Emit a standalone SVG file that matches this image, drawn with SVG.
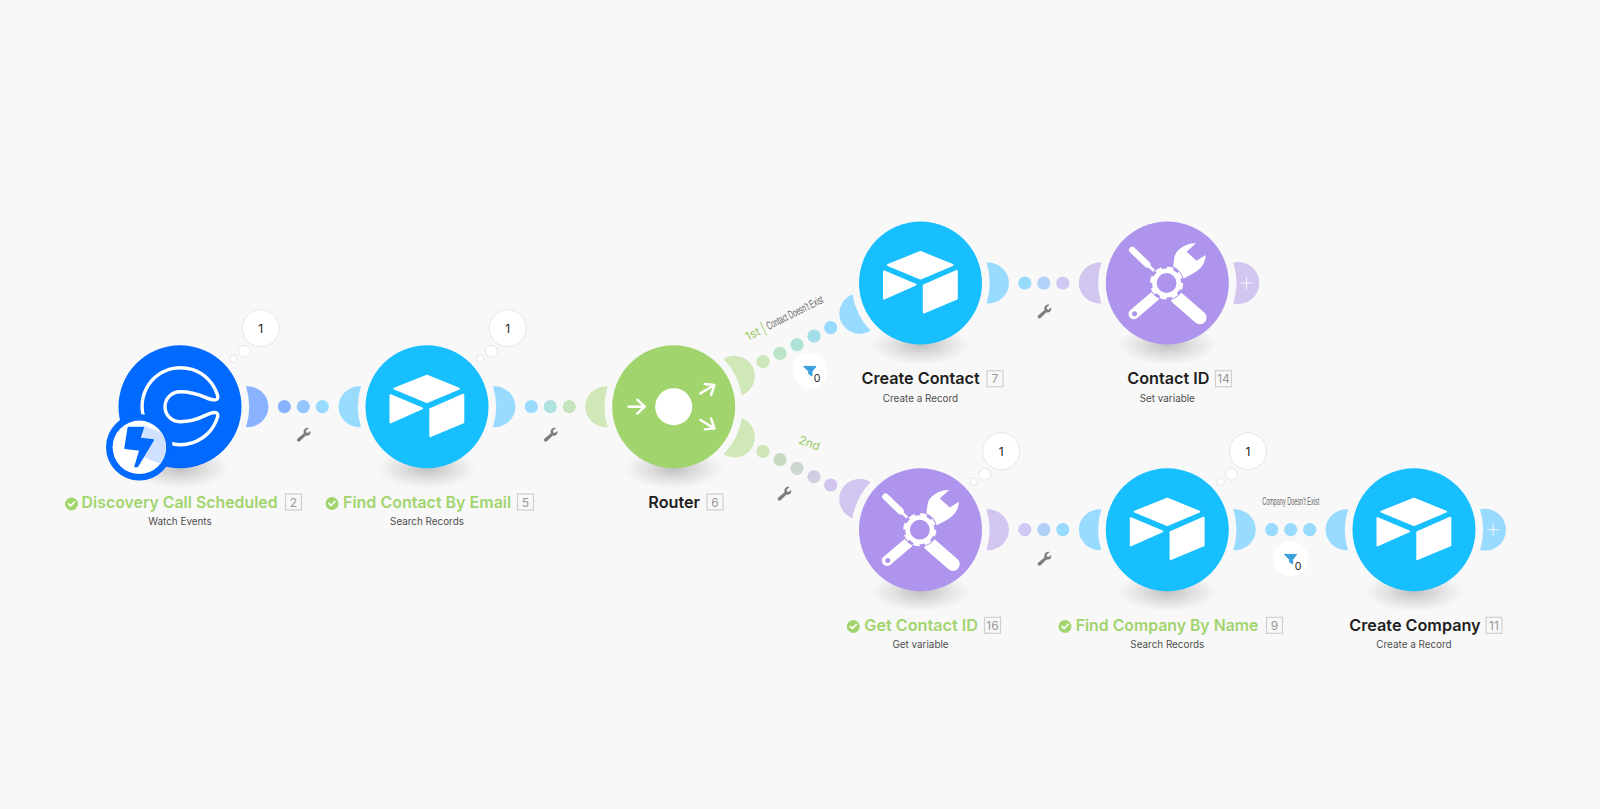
<svg xmlns="http://www.w3.org/2000/svg" width="1600" height="809" viewBox="0 0 1600 809">
<style>
.title{font-family:"Inter","Liberation Sans",sans-serif;font-weight:600;font-size:16.2px;fill:#1f1f1f}
.ok{fill:#a2d46e}
.sub{font-family:"Inter","Liberation Sans",sans-serif;font-size:9.9px;fill:#4d4d4d;text-anchor:middle}
.badge{fill:none;stroke:#cfcfcf;stroke-width:1.2}
.bnum{font-family:"Inter","Liberation Sans",sans-serif;font-size:12px;fill:#999;text-anchor:middle}
.cond{font-family:"Liberation Sans",sans-serif;font-size:11.5px;fill:#666;text-anchor:middle}
.route{font-family:"Inter","Liberation Sans",sans-serif;font-size:12px;fill:#99cc66;text-anchor:middle}
.bub{fill:#fff;stroke:#e6e6e6;stroke-width:1}
.num{font-family:"Inter","Liberation Sans",sans-serif;font-size:12px;fill:#222;text-anchor:middle}
.zero{font-family:"Inter","Liberation Sans",sans-serif;font-size:10.5px;fill:#222;text-anchor:middle}
.plus{stroke:#fff;stroke-width:1;opacity:.85}
.ic{fill:#fff}
.arr{fill:none;stroke:#fff;stroke-width:2.4;stroke-linecap:round;stroke-linejoin:round}
</style>
<defs>
<radialGradient id="sh"><stop offset="0" stop-color="#000" stop-opacity=".22"/><stop offset=".55" stop-color="#000" stop-opacity=".09"/><stop offset="1" stop-color="#000" stop-opacity="0"/></radialGradient>
<path id="bump" d="M66-20.4A68 68 0 0 1 66 20.4A21 20.45 0 1 0 66-20.4Z"/>
<path id="bumpplus" d="M66-20.4A68 68 0 0 1 66 20.4A21 21 0 1 0 66-20.4Z"/>
<ellipse id="shadow" cx="0" cy="62" rx="50" ry="20" fill="url(#sh)"/>
<g id="airtable" class="ic" stroke="#fff" stroke-width="2" stroke-linejoin="round">
<path d="M0-31L32-18L0-4.500L-32.500-18Z"/>
<path d="M-36.500-11.500L-5 1.700L-36.500 15.700Z"/>
<path d="M36.300-12V15.700L3.300 29.500V2.500Z"/>
</g>
<g id="tools">
<path d="M-35-33L-20-18.500" stroke="#fff" stroke-width="6.500" stroke-linecap="round"/>
<path d="M-21-19.500L-10.500-9.500" stroke="#fff" stroke-width="2.800"/>
<path d="M10 15L32.500 34.500" stroke="#fff" stroke-width="13.500" stroke-linecap="round"/>
<path d="M-12.300 13L-33.500 31" stroke="#fff" stroke-width="10.500" stroke-linecap="round"/>
<circle cx="-32.700" cy="30.800" r="2.500" fill="#ae94ec"/>
<path class="ic" d="M7-25C8-33 18-40 28.700-39.700L19.300-31.300L29.300-22.300L38.300-28C38-18 32-12 21-7L10-1L5-10Z"/>
<circle cx="-.7" r="17.500" fill="#ae94ec"/>
<circle cx="-.7" r="12.200" fill="none" stroke="#fff" stroke-width="4.600"/>
<circle cx="-.7" r="15" fill="none" stroke="#fff" stroke-width="3.200" stroke-dasharray="6.500 5.280"/>
</g>
<path id="funnel" d="M-6.300-4.300H6L2 .7V5.300L-1.300 3V.7Z" fill="#3d9fe0" stroke="#3d9fe0" stroke-linejoin="round"/>
<path id="wrench" fill="#7d7d7d" d="M5.600-6.300C3.800-6.800 2-6.200 1-4.800C.2-3.600 .1-2.200 .6-1L-5.600 4.300C-6.600 5.200-6.600 6.300-5.800 7C-5 7.700-3.900 7.600-3.100 6.700L2.500 1.300C3.800 1.700 5.200 1.400 6.200 .4C7.200-.7 7.500-2 7-3.400L4.600-1.300L3-1.700L2.600-3.500Z"/>
<g id="check"><circle r="6.500" fill="#a2d46e"/><path d="M-3-.2L-.9 2L3-2" fill="none" stroke="#fff" stroke-width="1.700" stroke-linecap="round" stroke-linejoin="round"/></g>
<g id="bubbles">
<circle class="bub" cx="80.700" cy="-78.400" r="18.500"/>
<circle class="bub" cx="64.300" cy="-55.400" r="6"/>
<circle class="bub" cx="53.300" cy="-48" r="3.700"/>
<text class="num" x="80.700" y="-74">1</text>
</g>
</defs>
<rect width="1600" height="809" fill="#f8f8f8"/>

<g id="connectors">
<circle cx="284.300" cy="406.700" r="6.600" fill="#8ab3ff"/>
<circle cx="303.300" cy="406.700" r="6.600" fill="#93c6fc"/>
<circle cx="322.300" cy="406.700" r="6.600" fill="#99dbff"/>
<circle cx="531.300" cy="406.700" r="6.600" fill="#99dbff"/>
<circle cx="550.300" cy="406.700" r="6.600" fill="#afe2de"/>
<circle cx="569.300" cy="406.700" r="6.600" fill="#c6e5bd"/>
<circle cx="763" cy="361.700" r="6.600" fill="#cde6ba"/>
<circle cx="780" cy="353.300" r="6.600" fill="#bce4c8"/>
<circle cx="797" cy="344.700" r="6.600" fill="#aee1d8"/>
<circle cx="814" cy="336" r="6.600" fill="#a4dee8"/>
<circle cx="830.700" cy="327.700" r="6.600" fill="#99dbff"/>
<circle cx="763" cy="451.300" r="6.600" fill="#cfe6b8"/>
<circle cx="780" cy="459.700" r="6.600" fill="#c9d8c0"/>
<circle cx="797" cy="468.300" r="6.600" fill="#ced6d0"/>
<circle cx="814" cy="476.700" r="6.600" fill="#d0cfe2"/>
<circle cx="830.700" cy="485" r="6.600" fill="#d2c5f0"/>
<circle cx="1024.800" cy="283" r="6.600" fill="#99dbff"/>
<circle cx="1043.800" cy="283" r="6.600" fill="#b0d2f8"/>
<circle cx="1062.800" cy="283" r="6.600" fill="#d0c7f2"/>
<circle cx="1024.800" cy="529.700" r="6.600" fill="#d0c7f2"/>
<circle cx="1043.800" cy="529.700" r="6.600" fill="#b0d0f8"/>
<circle cx="1062.800" cy="529.700" r="6.600" fill="#99dbff"/>
<circle cx="1271.700" cy="529.700" r="6.600" fill="#99dbff"/>
<circle cx="1290.700" cy="529.700" r="6.600" fill="#99dbff"/>
<circle cx="1309.700" cy="529.700" r="6.600" fill="#99dbff"/>
<use href="#wrench" x="303.300" y="434.300"/>
<use href="#wrench" x="550.300" y="434.300"/>
<use href="#wrench" x="784" y="493.300"/>
<use href="#wrench" x="1044" y="311"/>
<use href="#wrench" x="1044" y="558.300"/>
<g transform="translate(752.700 334) rotate(-26.600)"><text class="route" y="4">1st</text><path d="M12-7.500V7.500" stroke="#99cc66" stroke-width=".8"/></g>
<text class="cond" transform="translate(796.500 316) rotate(-26.600)" textLength="62" lengthAdjust="spacingAndGlyphs">Contact Doesn't Exist</text>
<text class="route" transform="translate(808 447) rotate(20)">2nd</text>
<text class="cond" x="1290.700" y="505" textLength="57" lengthAdjust="spacingAndGlyphs">Company Doesn't Exist</text>
<g id="filter1"><circle cx="810" cy="370.700" r="17.500" fill="#fff"/><use href="#funnel" x="810" y="370.700"/><text class="zero" x="817" y="381.500">0</text></g>
<g id="filter2"><circle cx="1290.700" cy="558.700" r="17.500" fill="#fff"/><use href="#funnel" x="1290.700" y="558.700"/><text class="zero" x="1298" y="569.500">0</text></g>
</g>

<g id="node-2">
<use href="#shadow" x="180" y="406.700"/>
<use href="#bump" transform="translate(180 406.700)" fill="#8ab3ff"/>
<circle cx="180" cy="406.700" r="61.500" fill="#0069ff"/>
<path transform="translate(180 406.700)" fill="none" stroke="#fff" stroke-width="3.400" stroke-linejoin="round" d="M37-13A38.500 38.500 0 1 0 37 12Q39 7 36 6C28 4 22 15 0 15A15 15 0 0 1 0-15C22-15 28-5 36-7Q39-8 37-13Z"/>
<g transform="translate(139.300 447.300)">
<circle r="33.300" fill="#0069ff"/>
<circle r="26.700" fill="#fff"/>
<path d="M4-22L22.500-14.400A26.700 26.700 0 0 1 21 16.500L2 9Z" fill="#cfe1ff"/>
<path d="M-11-19.700H4L.7-9L14-7.300L-2 19.300H-4.300L.7 2.700L-14.300 1Z" fill="#0069ff" stroke="#0069ff" stroke-width="1.500" stroke-linejoin="round"/>
</g>
<use href="#bubbles" x="180" y="406.700"/>
<use href="#check" x="71.500" y="504"/>
<text class="title ok" x="81.600" y="507.800" textLength="196" lengthAdjust="spacingAndGlyphs">Discovery Call Scheduled</text>
<rect class="badge" x="285.500" y="494" width="16" height="16"/><text class="bnum" x="293.500" y="506.500">2</text>
<text class="sub" x="180" y="524.800">Watch Events</text>
</g>

<g id="node-5">
<use href="#shadow" x="427" y="406.700"/>
<use href="#bump" transform="translate(427 406.700) rotate(180)" fill="#99dbff"/>
<use href="#bump" transform="translate(427 406.700)" fill="#99dbff"/>
<circle cx="427" cy="406.700" r="61.500" fill="#18bfff"/>
<use href="#airtable" x="427" y="406.700"/>
<use href="#bubbles" x="427" y="406.700"/>
<use href="#check" x="332" y="503.500"/>
<text class="title ok" x="343" y="507.800" textLength="168.200" lengthAdjust="spacingAndGlyphs">Find Contact By Email</text>
<rect class="badge" x="517.500" y="494" width="16" height="16"/><text class="bnum" x="525.500" y="506.500">5</text>
<text class="sub" x="427" y="524.800">Search Records</text>
</g>

<g id="node-6">
<use href="#shadow" x="673.700" y="406.700"/>
<use href="#bump" transform="translate(673.700 406.700) rotate(180)" fill="#d0e7b7"/>
<use href="#bump" transform="translate(673.700 406.700) rotate(-26.600)" fill="#d0e7b7"/>
<use href="#bump" transform="translate(673.700 406.700) rotate(26.600)" fill="#d0e7b7"/>
<circle cx="673.700" cy="406.700" r="61.500" fill="#a2d46e"/>
<circle cx="673.700" cy="406.700" r="18.500" fill="#fff"/>
<g transform="translate(673.700 406.700)" class="arr">
<path d="M-45 0H-29M-36.500-7L-29 0L-36.500 7"/>
<path d="M26.700-13.300L40.700-21.700M31-22.700L40.700-21.700L37.300-11.700"/>
<path d="M26.700 13.300L40.700 21.700M31 22.700L40.700 21.700L37.300 11.700"/>
</g>
<text class="title" x="648.300" y="507.800">Router</text>
<rect class="badge" x="707" y="494" width="16" height="16"/><text class="bnum" x="715" y="506.500">6</text>
</g>

<g id="node-7">
<use href="#shadow" x="920.500" y="283"/>
<use href="#bump" transform="translate(920.500 283) rotate(153.400)" fill="#99dbff"/>
<use href="#bump" transform="translate(920.500 283)" fill="#99dbff"/>
<circle cx="920.500" cy="283" r="61.500" fill="#18bfff"/>
<use href="#airtable" x="920.500" y="283"/>
<text class="title" x="861.500" y="384.300">Create Contact</text>
<rect class="badge" x="987" y="370.700" width="16" height="16"/><text class="bnum" x="995" y="383.200">7</text>
<text class="sub" x="920.500" y="401.800">Create a Record</text>
</g>

<g id="node-14">
<use href="#shadow" x="1167.300" y="283"/>
<use href="#bump" transform="translate(1167.300 283) rotate(180)" fill="#d2c5f0"/>
<use href="#bumpplus" transform="translate(1167.300 283)" fill="#d2c5f0"/>
<path class="plus" d="M1240.500 283H1252.500M1246.500 277V289"/>
<circle cx="1167.300" cy="283" r="61.500" fill="#ae94ec"/>
<use href="#tools" x="1167.300" y="283"/>
<text class="title" x="1127.300" y="384.300">Contact ID</text>
<rect class="badge" x="1215.500" y="370.700" width="16" height="16"/><text class="bnum" x="1223.500" y="383.200">14</text>
<text class="sub" x="1167.300" y="401.800">Set variable</text>
</g>

<g id="node-16">
<use href="#shadow" x="920.500" y="529.700"/>
<use href="#bump" transform="translate(920.500 529.700) rotate(206.600)" fill="#d2c5f0"/>
<use href="#bump" transform="translate(920.500 529.700)" fill="#d2c5f0"/>
<circle cx="920.500" cy="529.700" r="61.500" fill="#ae94ec"/>
<use href="#tools" x="920.500" y="529.700"/>
<use href="#bubbles" x="920.500" y="529.700"/>
<use href="#check" x="853.300" y="626.500"/>
<text class="title ok" x="864.300" y="630.500">Get Contact ID</text>
<rect class="badge" x="984.500" y="617.300" width="16" height="16"/><text class="bnum" x="992.500" y="629.800">16</text>
<text class="sub" x="920.500" y="647.800">Get variable</text>
</g>

<g id="node-9">
<use href="#shadow" x="1167.300" y="529.700"/>
<use href="#bump" transform="translate(1167.300 529.700) rotate(180)" fill="#99dbff"/>
<use href="#bump" transform="translate(1167.300 529.700)" fill="#99dbff"/>
<circle cx="1167.300" cy="529.700" r="61.500" fill="#18bfff"/>
<use href="#airtable" x="1167.300" y="529.700"/>
<use href="#bubbles" x="1167.300" y="529.700"/>
<use href="#check" x="1065" y="626.500"/>
<text class="title ok" x="1075.700" y="630.500" textLength="182.600" lengthAdjust="spacingAndGlyphs">Find Company By Name</text>
<rect class="badge" x="1266.500" y="617.300" width="16" height="16"/><text class="bnum" x="1274.500" y="629.800">9</text>
<text class="sub" x="1167.300" y="647.800">Search Records</text>
</g>

<g id="node-11">
<use href="#shadow" x="1414" y="529.700"/>
<use href="#bump" transform="translate(1414 529.700) rotate(180)" fill="#99dbff"/>
<use href="#bumpplus" transform="translate(1414 529.700)" fill="#99dbff"/>
<path class="plus" d="M1487.200 529.700H1499.200M1493.200 523.700V535.700"/>
<circle cx="1414" cy="529.700" r="61.500" fill="#18bfff"/>
<use href="#airtable" x="1414" y="529.700"/>
<text class="title" x="1349.300" y="630.500">Create Company</text>
<rect class="badge" x="1486" y="617.300" width="16" height="16"/><text class="bnum" x="1494" y="629.800">11</text>
<text class="sub" x="1414" y="647.800">Create a Record</text>
</g>
</svg>
